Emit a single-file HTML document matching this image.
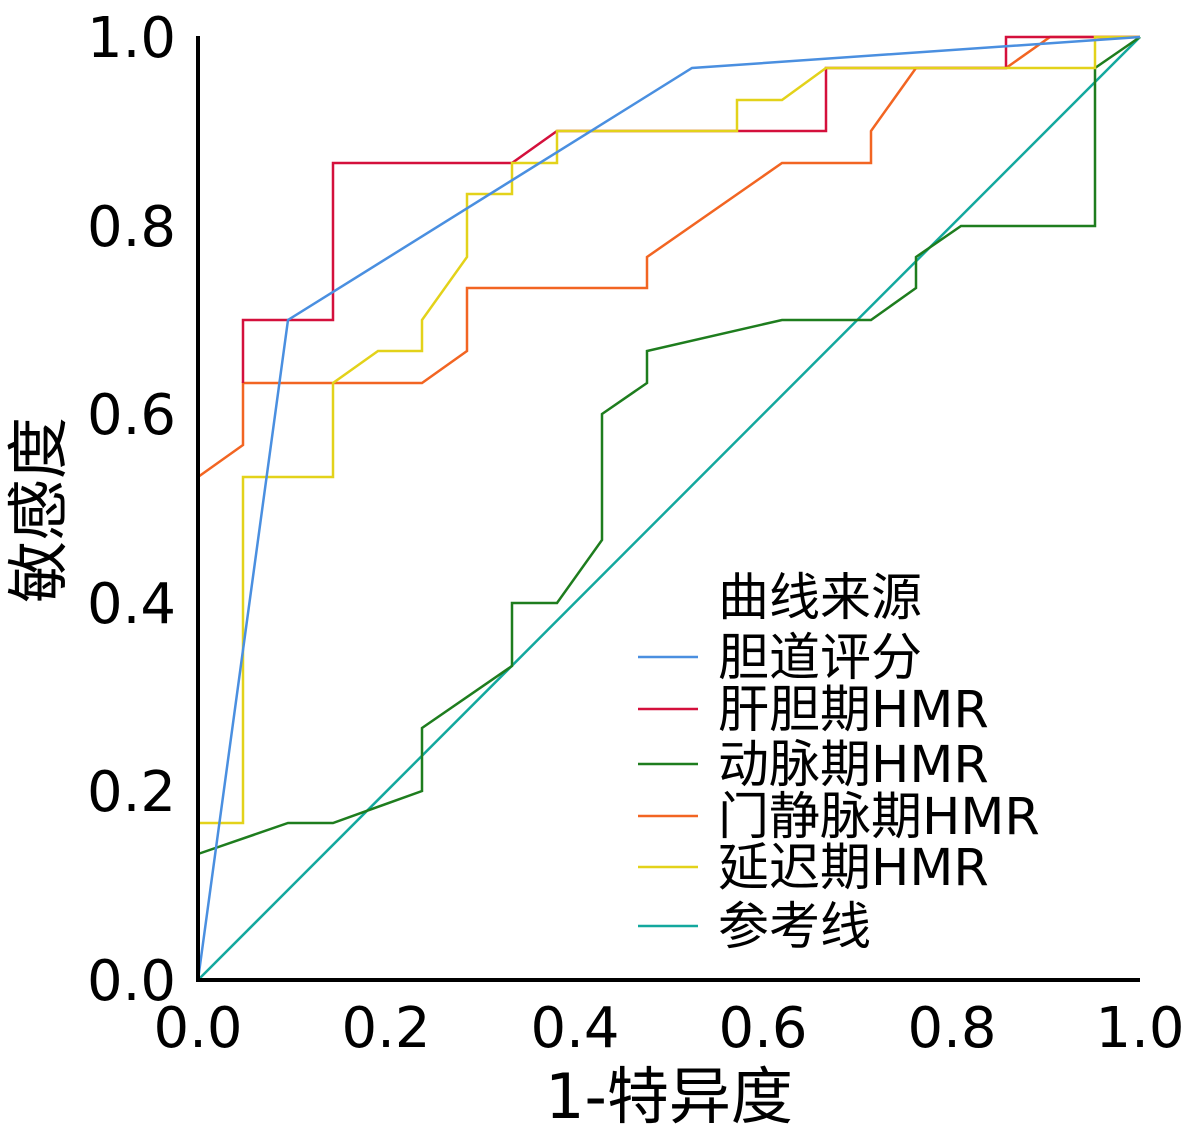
<!DOCTYPE html>
<html><head><meta charset="utf-8"><style>body{margin:0;background:#fff}svg{display:block}text{font-family:"DejaVu Sans","Noto Sans CJK SC",sans-serif;fill:#000}</style></head><body>
<svg width="1194" height="1133" xmlns="http://www.w3.org/2000/svg">
<g fill="none" stroke-width="2.5" stroke-linejoin="miter">
<polyline stroke="#13a89e" points="198,980 1140,37"/>
<polyline stroke="#1e7d1e" points="198,854 288,823 333,823 422,791 422,728 512,666 512,603 557,603 602,540 602,414 647,383 647,351 782,320 871,320 916,288 916,257 961,226 1095,226 1095,68 1140,37"/>
<polyline stroke="#f26522" points="198,477 243,445 243,383 422,383 467,351 467,288 647,288 647,257 782,163 871,163 871,131 916,68 1006,68 1050,37 1140,37"/>
<polyline stroke="#d4103c" points="243,383 243,320 333,320 333,163 512,163 557,131 826,131 826,68 1006,68 1006,37 1140,37"/>
<polyline stroke="#e3d21a" points="198,823 243,823 243,477 333,477 333,383 378,351 422,351 422,320 467,257 467,194 512,194 512,163 557,163 557,131 737,131 737,100 782,100 826,68 1095,68 1095,37 1140,37"/>
<polyline stroke="#4a8fe0" points="198,980 288,320 692,68 1140,37"/>
</g>
<g stroke="#000" stroke-width="4"><line x1="198" y1="36" x2="198" y2="982"/><line x1="196" y1="980" x2="1140" y2="980"/></g>
<g font-size="56" text-anchor="end">
<text x="176" y="1000">0.0</text><text x="176" y="811">0.2</text><text x="176" y="623">0.4</text><text x="176" y="434">0.6</text><text x="176" y="246">0.8</text><text x="176" y="57">1.0</text>
</g>
<g font-size="56" text-anchor="middle">
<text x="198" y="1047">0.0</text><text x="386" y="1047">0.2</text><text x="575" y="1047">0.4</text><text x="763" y="1047">0.6</text><text x="952" y="1047">0.8</text><text x="1140" y="1047">1.0</text>
</g>
<g font-size="62" text-anchor="middle">
<text x="669" y="1118">1-特异度</text>
<text transform="translate(60,510) rotate(-90)">敏感度</text>
</g>
<g font-size="51">
<text x="718" y="615">曲线来源</text>
<text x="718" y="675">胆道评分</text>
<text x="718" y="727">肝胆期HMR</text>
<text x="718" y="782">动脉期HMR</text>
<text x="718" y="834">门静脉期HMR</text>
<text x="718" y="885">延迟期HMR</text>
<text x="718" y="944">参考线</text>
</g>
<g stroke-width="2.5">
<line x1="638" y1="657" x2="698" y2="657" stroke="#4a8fe0"/>
<line x1="638" y1="709" x2="698" y2="709" stroke="#d4103c"/>
<line x1="638" y1="764" x2="698" y2="764" stroke="#1e7d1e"/>
<line x1="638" y1="816" x2="698" y2="816" stroke="#f26522"/>
<line x1="638" y1="867" x2="698" y2="867" stroke="#e3d21a"/>
<line x1="638" y1="926" x2="698" y2="926" stroke="#13a89e"/>
</g>
</svg>
</body></html>
